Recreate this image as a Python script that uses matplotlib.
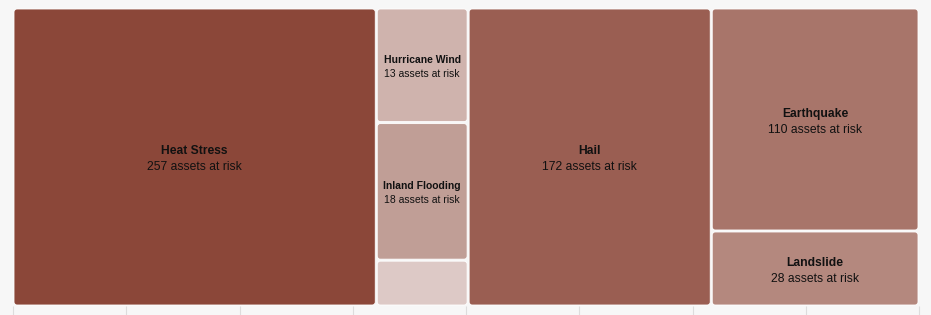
import numpy as np
import matplotlib
matplotlib.use("Agg")
import matplotlib.pyplot as plt
from matplotlib.patches import FancyBboxPatch

plt.rcParams['font.family'] = ['Liberation Sans', 'DejaVu Sans']

# hazards, asset counts shown in the labels, and tile sizes
hazards = ["Heat Stress", "Hurricane Wind", "Inland Flooding", "", "Hail", "Earthquake", "Landslide"]
assets = [257, 13, 18, None, 172, 110, 28]
tile_size = [257, 25, 30, 10, 172, 110, 37]
colors = ["#8b4739", "#cfb3ad", "#c09e96", "#ddc9c6", "#9a5e52", "#a8756a", "#b4887e"]
columns = [[0], [1, 2, 3], [4], [5, 6]]

W, H = 906, 298  # axes size in pixels, data units = pixels

fig = plt.figure(figsize=(9.31, 3.15), dpi=100, facecolor="#f7f7f7")
ax = fig.add_axes([13/931, 9/315, W/931, H/315])
ax.set_facecolor("#f7f7f7")
ax.set_xlim(0, W)
ax.set_ylim(H, 0)

total = sum(tile_size)
x0 = 0
for col in columns:
    csum = sum(tile_size[i] for i in col)
    cw = W * csum / total
    y0 = 0
    for i in col:
        ch = H * tile_size[i] / csum
        gap = 1
        box = FancyBboxPatch((x0 + gap, y0 + gap), cw - 2*gap, ch - 2*gap,
                             boxstyle="round,pad=0,rounding_size=3",
                             facecolor=colors[i], edgecolor="white", linewidth=0.6)
        ax.add_patch(box)
        if assets[i] is not None:
            wide = cw > 150
            fs = 8.7 if wide else 7.5
            dy = 8 if wide else 7
            cx, cy = x0 + cw/2, y0 + ch/2 + (2.5 if wide else 1.5)
            ax.text(cx, cy - dy, hazards[i], ha="center", va="center",
                    fontsize=fs, fontweight="bold", color="#111111")
            ax.text(cx, cy + dy, f"{assets[i]} assets at risk", ha="center", va="center",
                    fontsize=fs, color="#111111")
        y0 += ch
    x0 += cw

ax.set_xticks(np.linspace(0, W, 9))
ax.set_xticklabels([])
ax.set_yticks([])
ax.tick_params(axis="x", length=7, width=0.8, color="#dddddd", pad=0)
for s in ax.spines.values():
    s.set_visible(False)

fig.savefig("out.png", dpi=100, facecolor=fig.get_facecolor())
